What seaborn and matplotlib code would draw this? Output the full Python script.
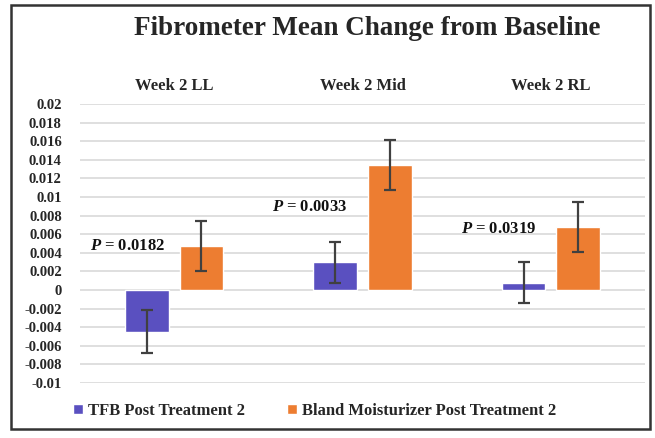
import matplotlib
matplotlib.use("Agg")
import matplotlib.pyplot as plt
import seaborn as sns
import pandas as pd
from matplotlib.patches import Rectangle

# ---- data ----
categories = ["Week 2 LL", "Week 2 Mid", "Week 2 RL"]
series_names = ["TFB Post Treatment 2", "Bland Moisturizer Post Treatment 2"]
tfb_means = [-0.0045, 0.0030, 0.0008]
tfb_err = [0.0023, 0.0022, 0.0022]
bland_means = [0.0047, 0.0134, 0.0068]
bland_err = [0.0027, 0.0027, 0.0027]
p_labels = ["0.0182", "0.0033", "0.0319"]
p_y = [0.0047, 0.0089, 0.0066]
ytick_values = [0.02, 0.018, 0.016, 0.014, 0.012, 0.01, 0.008, 0.006, 0.004, 0.002, 0,
                -0.002, -0.004, -0.006, -0.008, -0.01]
ytick_labels = ["0.02", "0.018", "0.016", "0.014", "0.012", "0.01", "0.008", "0.006",
                "0.004", "0.002", "0", "-0.002", "-0.004", "-0.006", "-0.008", "-0.01"]
title = "Fibrometer Mean Change from Baseline"

colors = ["#5A50C0", "#ED7D31"]

sns.set_theme(style="white")
plt.rcParams["font.family"] = ["Liberation Serif", "DejaVu Serif"]
plt.rcParams["font.weight"] = "bold"
plt.rcParams["mathtext.fontset"] = "custom"
plt.rcParams["mathtext.rm"] = "Liberation Serif:bold"
plt.rcParams["mathtext.it"] = "Liberation Serif:italic:bold"
plt.rcParams["mathtext.bf"] = "Liberation Serif:bold"

df = pd.DataFrame({
    "category": categories * 2,
    "series": [series_names[0]] * 3 + [series_names[1]] * 3,
    "value": tfb_means + bland_means,
})

fig = plt.figure(figsize=(6.55, 4.38), dpi=100)
ax = fig.add_axes([0.122, 0.1256, 0.863, 0.637])

sns.barplot(data=df, x="category", y="value", hue="series", order=categories,
            hue_order=series_names, palette=colors, width=0.58, gap=0.2,
            errorbar=None, ax=ax, saturation=1)

errs = [tfb_err, bland_err]
for cont, err in zip(ax.containers, errs):
    xs = [p.get_x() + p.get_width() / 2 for p in cont.patches]
    ys = [p.get_y() + p.get_height() for p in cont.patches]
    ax.errorbar(xs, ys, yerr=err, fmt="none", ecolor="#404040", elinewidth=1.6,
                capsize=4.5, capthick=1.6, zorder=5)

ax.set_xlim(-0.5, len(categories) - 0.5)
ax.set_ylim(-0.01, 0.02)
ax.set_yticks(ytick_values)
ax.set_yticklabels(ytick_labels, fontsize=10.5, fontweight="bold")
ax.yaxis.grid(True, color="#d9d9d9", linewidth=1.2)
ax.set_axisbelow(True)
for s in ax.spines.values():
    s.set_visible(False)
ax.tick_params(axis="y", length=0, pad=13)
ax.xaxis.tick_top()
ax.tick_params(axis="x", length=0, pad=7)
ax.set_xticks(range(len(categories)))
ax.set_xticklabels(categories, fontsize=12, fontweight="bold")
ax.set_xlabel("")
ax.set_ylabel("")

for i, (lab, yv) in enumerate(zip(p_labels, p_y)):
    ax.text(i - 0.05 if i == 0 else i - 0.08, yv, f"$P$ = {lab}", ha="right", va="center",
            fontsize=12, fontweight="bold", color="#111111")

handles, labels = ax.get_legend_handles_labels()
ax.get_legend().remove()
fig.legend(handles, labels, loc="center", bbox_to_anchor=(0.48, 0.062), ncol=2,
           frameon=False, handlelength=0.6, handleheight=0.6, handletextpad=0.3,
           columnspacing=2.5, prop={"family": "Liberation Serif", "weight": "bold", "size": 12})

fig.text(0.56, 0.934, title, ha="center", va="center", fontsize=19.5, fontweight="bold")

fig.patches.append(Rectangle((11 / 655, 1 - 429 / 438), 639 / 655, 424 / 438,
                             transform=fig.transFigure, fill=False,
                             edgecolor="#333333", linewidth=1.8))

fig.savefig("out.png", dpi=100)
